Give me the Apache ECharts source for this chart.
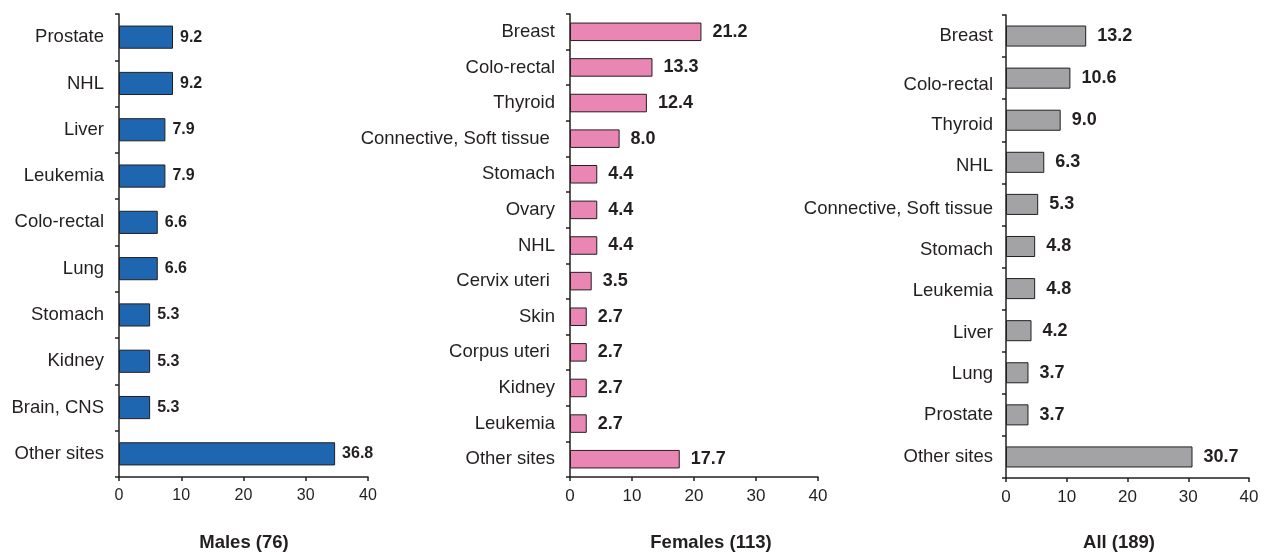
<!DOCTYPE html>
<html>
<head>
<meta charset="utf-8">
<script src="https://cdn.jsdelivr.net/npm/echarts@6/dist/echarts.min.js"></script>
<style>
  html, body { margin: 0; padding: 0; background: #ffffff; }
  #chart { width: 1266px; height: 552px; }
</style>
</head>
<body>
<div id="chart"></div>
<script>
// ---- Data ----
const maleCategories = ['Prostate', 'NHL', 'Liver', 'Leukemia', 'Colo-rectal', 'Lung', 'Stomach', 'Kidney', 'Brain, CNS', 'Other sites'];
const maleValues = [9.2, 9.2, 7.9, 7.9, 6.6, 6.6, 5.3, 5.3, 5.3, 36.8];

const femaleCategories = ['Breast', 'Colo-rectal', 'Thyroid', 'Connective, Soft tissue ', 'Stomach', 'Ovary', 'NHL', 'Cervix uteri ', 'Skin', 'Corpus uteri ', 'Kidney', 'Leukemia', 'Other sites'];
const femaleValues = [21.2, 13.3, 12.4, 8.0, 4.4, 4.4, 4.4, 3.5, 2.7, 2.7, 2.7, 2.7, 17.7];

const allCategories = ['Breast', 'Colo-rectal', 'Thyroid', 'NHL', 'Connective, Soft tissue', 'Stomach', 'Leukemia', 'Liver', 'Lung', 'Prostate', 'Other sites'];
const allValues = [13.2, 10.6, 9.0, 6.3, 5.3, 4.8, 4.8, 4.2, 3.7, 3.7, 30.7];

const panelTitles = ['Males (76)', 'Females (113)', 'All (189)'];
const xTickMin = 0, xTickMax = 40, xTickInterval = 10;

// ---- Styles ----
const textColor = '#231f20';
const axisColor = '#231f20';
const regular = '"Liberation Sans", Arial, sans-serif';
// label vertical nudges (px) in the "All" panel, as laid out in the original figure
const allLabelNudge = [0, 7, 5, 4, 4, 3, 2, 2, 1, 0, 0];

function xAxisFor(gridIndex, fontSize, show) {
  return {
    type: 'value', gridIndex: gridIndex, min: xTickMin, max: xTickMax, interval: xTickInterval,
    show: show,
    axisLine: { show: true, lineStyle: { color: axisColor, width: 1.5 } },
    axisTick: { show: true, length: 4, lineStyle: { color: axisColor, width: 1.5 } },
    axisLabel: { color: textColor, fontFamily: regular, fontSize: fontSize, margin: 11 },
    splitLine: { show: false }
  };
}
function yAxisFor(gridIndex, cats, margin, nudges) {
  const labelFont = { color: textColor, fontFamily: regular, fontSize: 18.5 };
  const axisLabel = Object.assign({ margin: margin, interval: 0 }, labelFont);
  if (nudges) {
    const rich = {};
    for (let k = 0; k <= 10; k++) {
      rich['n' + k] = Object.assign({ padding: [k * 2, 0, 0, 0] }, labelFont);
    }
    axisLabel.rich = rich;
    axisLabel.formatter = (value, index) => '{n' + nudges[index] + '|' + value + '}';
  }
  return {
    type: 'category', gridIndex: gridIndex, data: cats, inverse: true,
    axisLine: { show: true, lineStyle: { color: axisColor, width: 1.5 } },
    axisTick: { show: true, length: 4, lineStyle: { color: axisColor, width: 1.5 } },
    axisLabel: axisLabel,
    splitLine: { show: false }
  };
}
function barSeries(xIdx, yIdx, data, color, barWidth, labelSize, labelDist) {
  return {
    type: 'bar', xAxisIndex: xIdx, yAxisIndex: yIdx, data: data,
    barWidth: barWidth,
    itemStyle: { color: color, borderColor: '#231f20', borderWidth: 1 },
    label: {
      show: true, position: 'right', distance: labelDist,
      color: textColor, fontFamily: regular, fontWeight: 'bold', fontSize: labelSize,
      formatter: p => p.value.toFixed(1)
    },
    silent: true, animation: false
  };
}

const titleStyle = { fontFamily: regular, fontWeight: 'bold', fontSize: 18.5, color: textColor };

const option = {
  backgroundColor: '#ffffff',
  animation: false,
  title: [
    { text: panelTitles[0], left: 239, top: 528, textAlign: 'center', textStyle: titleStyle },
    { text: panelTitles[1], left: 706, top: 528, textAlign: 'center', textStyle: titleStyle },
    { text: panelTitles[2], left: 1114, top: 528, textAlign: 'center', textStyle: titleStyle }
  ],
  grid: [
    { left: 119, top: 14, width: 249, height: 463 },
    { left: 570, top: 14, width: 248, height: 463 },
    { left: 1006, top: 15, width: 243, height: 463 }
  ],
  xAxis: [
    xAxisFor(0, 16, true),
    xAxisFor(1, 17, true),
    xAxisFor(2, 17, true),
    // scale used by the male bars (as drawn in the original figure)
    { type: 'value', gridIndex: 0, min: 0, max: 42.4, show: false }
  ],
  yAxis: [
    yAxisFor(0, maleCategories, 15),
    yAxisFor(1, femaleCategories, 15),
    yAxisFor(2, allCategories, 13, allLabelNudge)
  ],
  series: [
    barSeries(3, 0, maleValues, '#1f66b1', '50%', 16, 7),
    barSeries(1, 1, femaleValues, '#ea86b4', '52%', 18, 11),
    barSeries(2, 2, allValues, '#a3a3a6', '50%', 18, 11)
  ]
};

const chart = echarts.init(document.getElementById('chart'), null, { renderer: 'canvas' });
chart.setOption(option);
</script>
</body>
</html>
